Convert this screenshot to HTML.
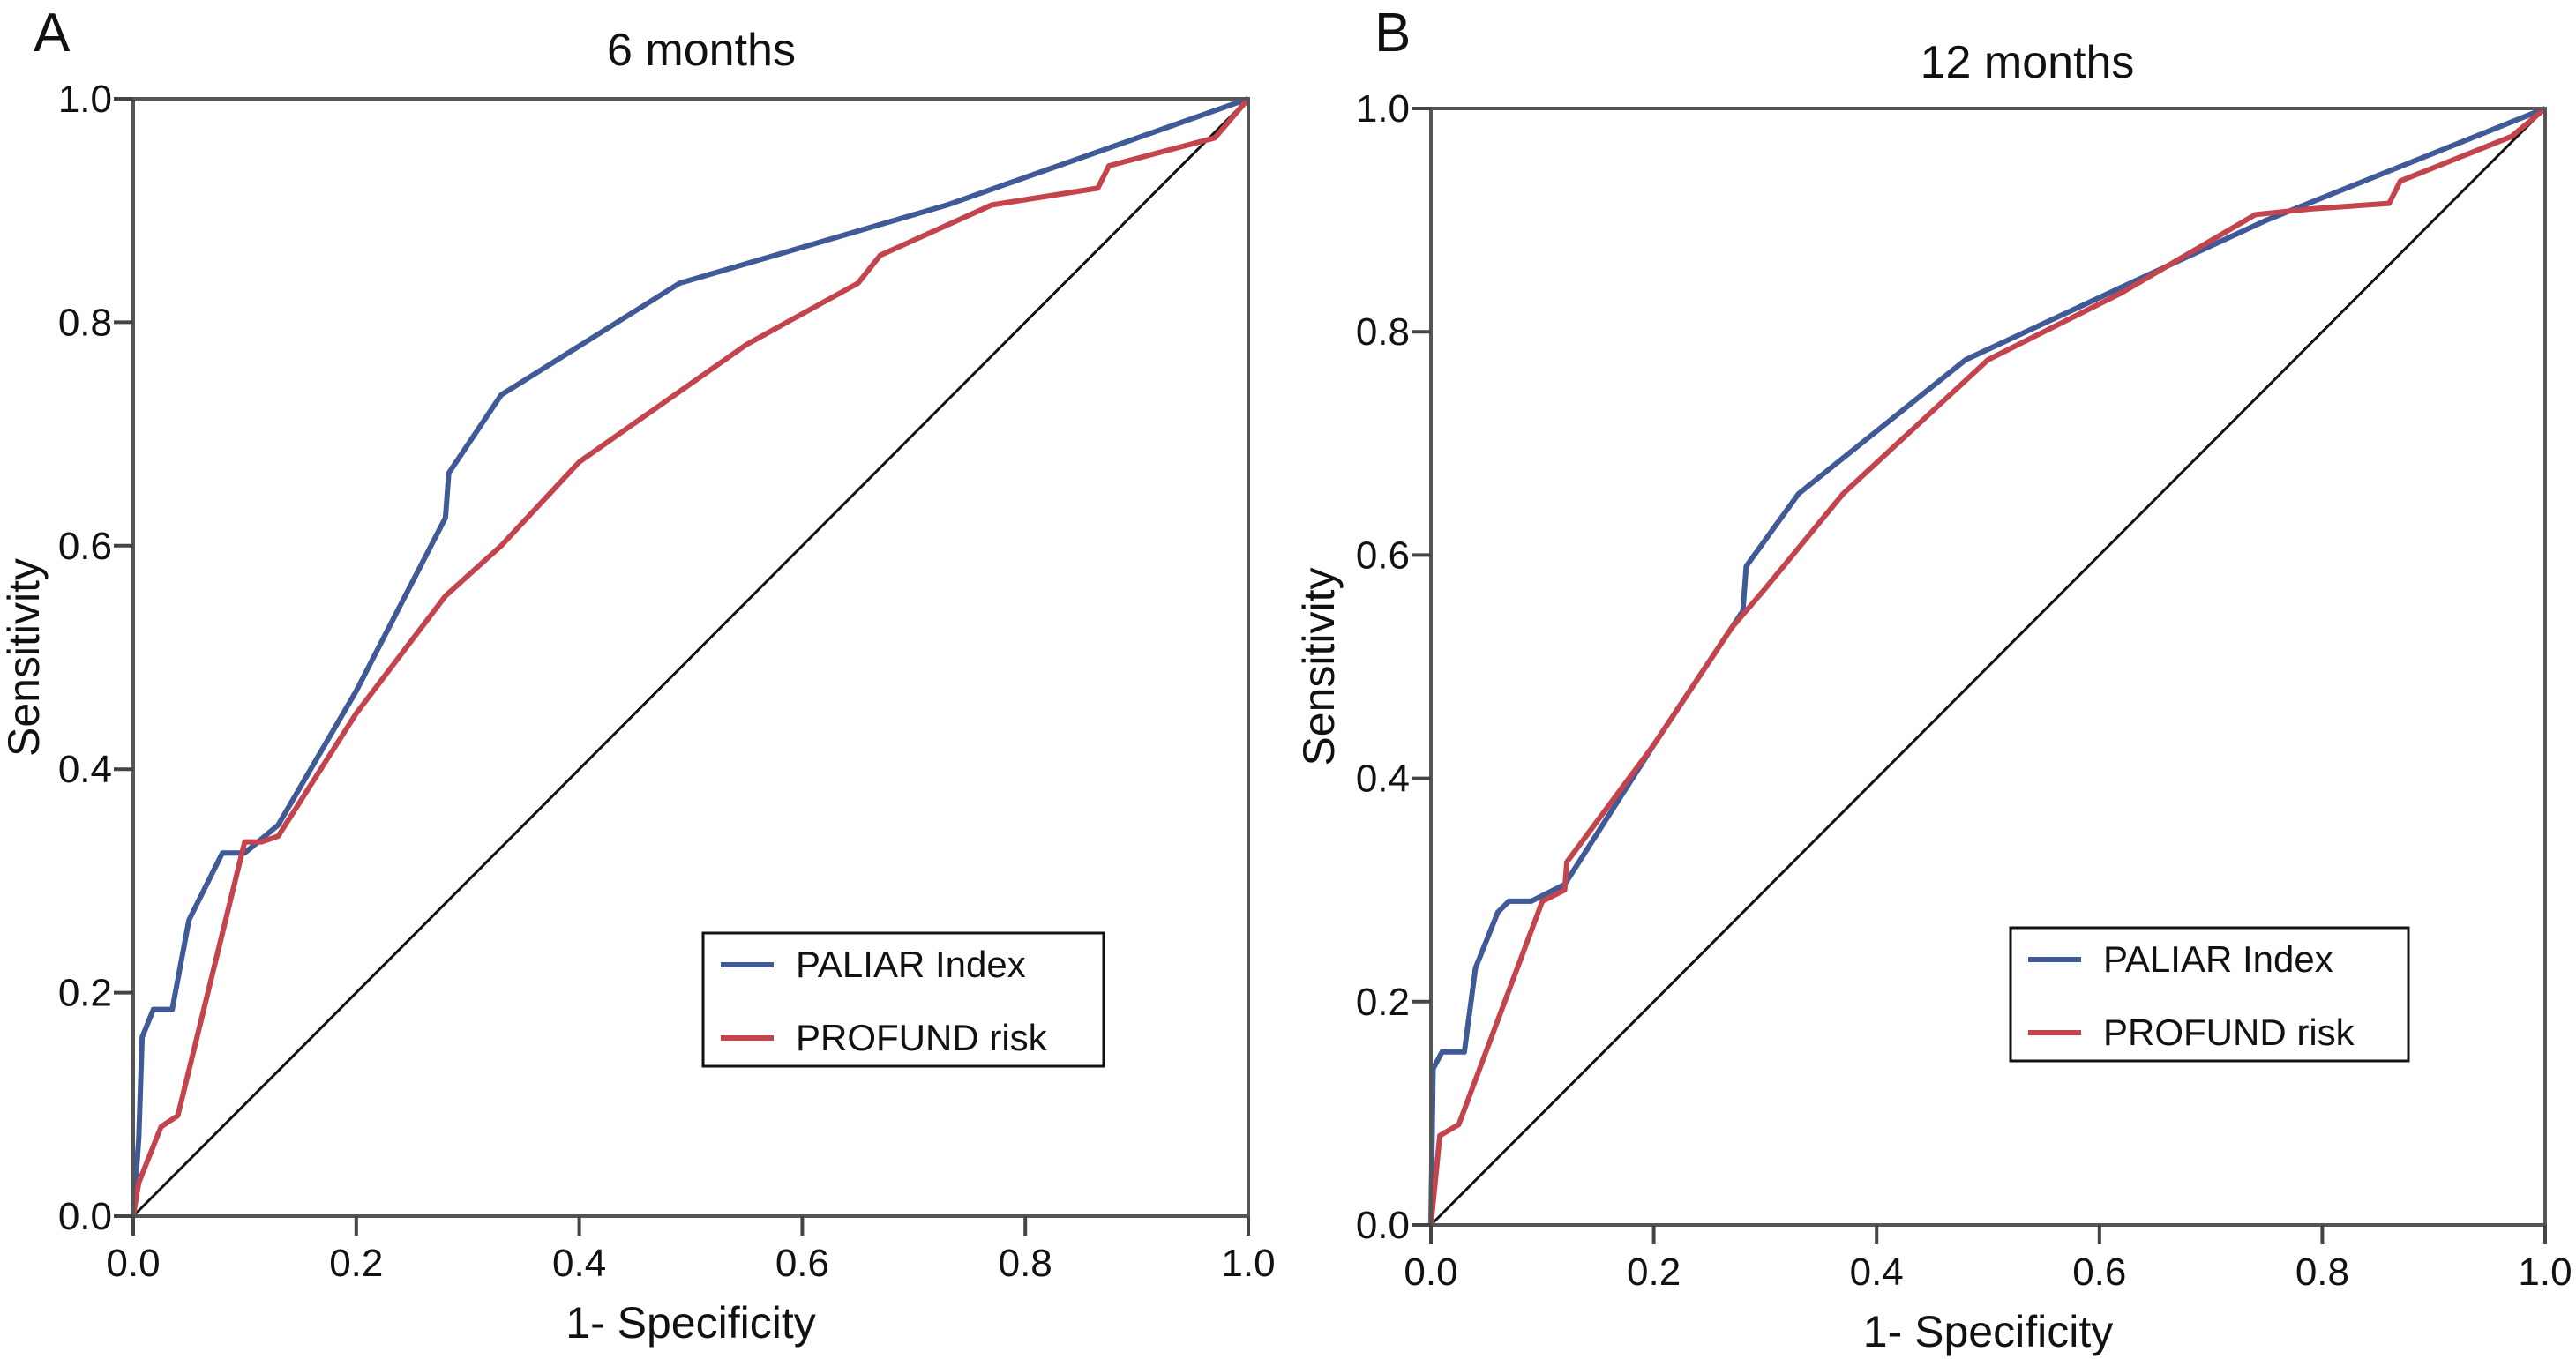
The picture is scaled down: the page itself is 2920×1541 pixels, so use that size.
<!DOCTYPE html>
<html><head><meta charset="utf-8">
<style>
html,body{margin:0;padding:0;background:#fff;}
svg{display:block;font-family:"Liberation Sans",Arial,sans-serif;}
</style></head>
<body>
<svg id="fig" width="2920" height="1541" viewBox="0 0 2920 1541"></svg>
<script>
const tickValues = [0, 0.2, 0.4, 0.6, 0.8, 1.0];
const tickLabels = ["0.0","0.2","0.4","0.6","0.8","1.0"];
const seriesNames = ["PALIAR Index", "PROFUND risk"];
const panelTitles = ["6 months", "12 months"];
const panelLetters = ["A", "B"];

const a_paliar_x = [0,0.005,0.008,0.018,0.035,0.05,0.08,0.1,0.13,0.2,0.28,0.283,0.33,0.49,0.73,1];
const a_paliar_y = [0,0.07,0.16,0.185,0.185,0.265,0.325,0.325,0.35,0.47,0.625,0.665,0.735,0.835,0.905,1];
const a_profund_x = [0,0.005,0.025,0.04,0.1,0.115,0.13,0.2,0.28,0.33,0.4,0.55,0.65,0.67,0.77,0.865,0.875,0.97,1];
const a_profund_y = [0,0.03,0.08,0.09,0.335,0.335,0.34,0.45,0.555,0.6,0.675,0.78,0.835,0.86,0.905,0.92,0.94,0.965,1];
const b_paliar_x = [0,0.002,0.01,0.03,0.04,0.06,0.07,0.09,0.12,0.2,0.28,0.283,0.33,0.48,0.62,0.75,1];
const b_paliar_y = [0,0.14,0.155,0.155,0.23,0.28,0.29,0.29,0.305,0.43,0.55,0.59,0.655,0.775,0.84,0.9,1];
const b_profund_x = [0,0.008,0.025,0.1,0.12,0.122,0.2,0.27,0.3,0.37,0.5,0.62,0.74,0.79,0.86,0.87,0.97,1];
const b_profund_y = [0,0.08,0.09,0.29,0.3,0.325,0.43,0.535,0.57,0.655,0.775,0.835,0.905,0.91,0.915,0.935,0.975,1];

const NS = "http://www.w3.org/2000/svg";
const svg = document.getElementById("fig");
function mk(tag, attrs, parent){
  const e = document.createElementNS(NS, tag);
  for (const k in attrs) e.setAttribute(k, attrs[k]);
  (parent||svg).appendChild(e);
  return e;
}
const panels = [
  {x0:151,x1:1415,y0:1379,y1:112,title:panelTitles[0],letter:panelLetters[0],tx:795,ty:74,lx:38,ly:58,
   leg:[797,1058,454,151],ytitleX:44,
   series:[[a_paliar_x,a_paliar_y],[a_profund_x,a_profund_y]]},
  {x0:1622,x1:2885,y0:1389,y1:123,title:panelTitles[1],letter:panelLetters[1],tx:2298,ty:88,lx:1558,ly:58,
   leg:[2279,1052,451,151],ytitleX:1512,
   series:[[b_paliar_x,b_paliar_y],[b_profund_x,b_profund_y]]}
];
const colors = ["#3f5a97","#c4444e"];
panels.forEach((p, pi) => {
  const g = mk("g", {});
  
  
  const sx = v => p.x0 + v*(p.x1-p.x0);
  const sy = v => p.y0 + v*(p.y1-p.y0);
  const t = mk("text", {x:p.tx,y:p.ty,"font-size":52,"text-anchor":"middle",fill:"#111"}, g);
  t.textContent = p.title;
  
  
  const l = mk("text", {x:p.lx,y:p.ly,"font-size":62,fill:"#111"}, g);
  l.textContent = p.letter;
  
  
  const d = mk("line", {x1:sx(0),y1:sy(0),x2:sx(1),y2:sy(1),stroke:"#111","stroke-width":3}, g);
  
  
  p.series.forEach((s, si) => {
    const pts = s[0].map((xv,i)=> sx(xv).toFixed(1)+","+sy(s[1][i]).toFixed(1)).join(" ");
    const pl = mk("polyline", {points:pts,fill:"none",stroke:colors[si],"stroke-width":6,"stroke-linejoin":"round"}, g);
    
    
  });
  const fr = mk("rect", {x:p.x0,y:p.y1,width:p.x1-p.x0,height:p.y0-p.y1,fill:"none",stroke:"#555","stroke-width":4}, g);
  
  
  tickValues.forEach((v, i) => {
    const yt = mk("line", {x1:p.x0-22,y1:sy(v),x2:p.x0,y2:sy(v),stroke:"#444","stroke-width":4}, g);
    
    
    const yl = mk("text", {x:p.x0-24,y:sy(v)+15,"font-size":44,"text-anchor":"end",fill:"#111"}, g);
    yl.textContent = tickLabels[i];
    
    
    const xt = mk("line", {x1:sx(v),y1:p.y0,x2:sx(v),y2:p.y0+22,stroke:"#444","stroke-width":4}, g);
    
    
    const xl = mk("text", {x:sx(v),y:p.y0+68,"font-size":44,"text-anchor":"middle",fill:"#111"}, g);
    xl.textContent = tickLabels[i];
    
    
  });
  const xtitle = mk("text", {x:(p.x0+p.x1)/2,y:p.y0+138,"font-size":50,"text-anchor":"middle",fill:"#111"}, g);
  xtitle.textContent = "1- Specificity";
  
  
  const ym = (p.y0+p.y1)/2;
  const ytitle = mk("text", {x:p.ytitleX,y:ym,"font-size":50,"text-anchor":"middle",fill:"#111",transform:"rotate(-90 "+p.ytitleX+" "+ym+")"}, g);
  ytitle.textContent = "Sensitivity";
  
  
  const [lx, ly, lw, lh] = p.leg;
  const lg = mk("g", {}, g);
  
  
  mk("rect", {x:lx,y:ly,width:lw,height:lh,fill:"#fff",stroke:"#111","stroke-width":3}, lg);
  seriesNames.forEach((n, si) => {
    const yy = ly + 36 + si*83;
    const e = mk("g", {}, lg);
    
    
    mk("line", {x1:lx+20,y1:yy,x2:lx+80,y2:yy,stroke:colors[si],"stroke-width":6}, e);
    const tx = mk("text", {x:lx+105,y:yy+14,"font-size":42,fill:"#111"}, e);
    tx.textContent = n;
  });
});
</script>
</body></html>
